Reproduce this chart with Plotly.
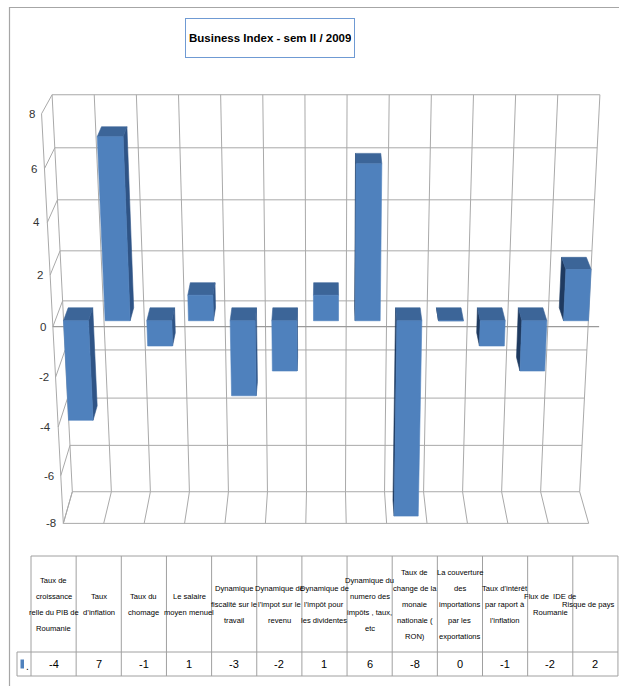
import numpy as np
import plotly.graph_objects as go

# ---- data -------------------------------------------------------------
categories = [
    ["Taux de", "croissance", "relle du PIB de", "Roumanie"],
    ["Taux", "d\u2019inflation"],
    ["Taux du", "chomage"],
    ["Le salaire", "moyen menuel"],
    ["Dynamique", "fiscalit\u00e9 sur le", "travail"],
    ["Dynamique de", "l\u2019impot sur le", "revenu"],
    ["Dynamique de", "l\u2019imp\u00f4t pour", "les dividentes"],
    ["Dynamique du", "numero des", "imp\u00f4ts , taux,", "etc"],
    ["Taux de", "change de la", "monaie", "nationale (", "RON)"],
    ["La couverture", "des", "importations", "par les", "exportations"],
    ["Taux d\u2019int\u00e9r\u00eat", "par raport \u00e0", "l\u2019inflation"],
    ["Flux de  IDE de", "Roumanie"],
    ["Risque de pays"],
]
values = [-4, 7, -1, 1, -3, -2, 1, 6, -8, 0, -1, -2, 2]
value_ticks = [8, 6, 4, 2, 0, -2, -4, -6, -8]
title_text = "Business Index - sem II / 2009"

# ---- page / styling ---------------------------------------------------
W, H = 619, 686
n = len(values)
Y_MIN, Y_MAX = min(value_ticks), max(value_ticks)

FONT = "Liberation Sans, Arial, sans-serif"
GRID = "#A9A9A9"
FRONT = "#4F81BD"
TOP = "#3C6598"
SIDE_R = "#2F5486"
SIDE_L = "#1F3A60"

# ---- perspective camera for the 3-D column view ------------------------
FOCAL = 1913.0
PITCH = np.radians(20.35)
VIEW_CX, VIEW_CY = 326.0, 310.0
SLOT_W = 22.03        # world width of one category slot
UNIT_H = 14.34        # world height of one value unit
EYE_H = 357.0         # eye height above the zero level
BACK_DIST = 976.8     # eye to back wall
FLOOR_DEPTH = 39.5    # front edge to back wall
BAR_Z = (0.225, 0.725)  # bar depth span, as fraction of floor depth
BAR_FILL = 0.6          # bar width, as fraction of a slot


def project(slot, val, depth):
    """slot: category coordinate 0..n, val: value, depth: 0 front .. 1 back"""
    slot = np.asarray(slot, float)
    val = np.asarray(val, float)
    depth = np.asarray(depth, float)
    dx = (slot - n / 2) * SLOT_W
    dy = val * UNIT_H - EYE_H
    dz = BACK_DIST - (1 - depth) * FLOOR_DEPTH
    s, c = np.sin(PITCH), np.cos(PITCH)
    yc = dy * c + dz * s
    zc = -dy * s + dz * c
    return VIEW_CX + FOCAL * dx / zc, VIEW_CY - FOCAL * yc / zc


def polyline(pairs):
    xs, ys = [], []
    for a, b in pairs:
        px, py = project(*zip(a, b))
        xs += list(px) + [None]
        ys += list(py) + [None]
    return xs, ys


def polygons(faces):
    xs, ys = [], []
    for corners in faces:
        px, py = project(*zip(*corners))
        xs += list(px) + [px[0], None]
        ys += list(py) + [py[0], None]
    return xs, ys


fig = go.Figure()

# walls and floor grid
grid = []
for t in value_ticks:
    grid.append(((0, t, 1), (n, t, 1)))        # back wall
    grid.append(((0, t, 0), (0, t, 1)))        # side wall
for k in range(n + 1):
    grid.append(((k, Y_MIN, 1), (k, Y_MAX, 1)))  # back wall
    grid.append(((k, Y_MIN, 0), (k, Y_MIN, 1)))  # floor
grid.append(((0, Y_MIN, 0), (0, Y_MAX, 0)))
grid.append(((0, Y_MIN, 0), (n, Y_MIN, 0)))
gx, gy = polyline(grid)
fig.add_trace(go.Scatter(x=gx, y=gy, mode="lines", line=dict(color=GRID, width=1),
                         hoverinfo="skip", showlegend=False))

# category axis at zero
ax, ay = polyline([((0, 0, 0), (n, 0, 0))])
fig.add_trace(go.Scatter(x=ax, y=ay, mode="lines", line=dict(color="#9A9A9A", width=1.3),
                         hoverinfo="skip", showlegend=False))

# columns
front, top, side_r, side_l = [], [], [], []
z0, z1 = BAR_Z
for i, v in enumerate(values):
    x0 = i + (1 - BAR_FILL) / 2
    x1 = i + (1 + BAR_FILL) / 2
    lo, hi = min(0, v), max(0, v)
    front.append([(x0, lo, z0), (x1, lo, z0), (x1, hi, z0), (x0, hi, z0)])
    top.append([(x0, hi, z0), (x1, hi, z0), (x1, hi, z1), (x0, hi, z1)])
    if x1 < n / 2:
        side_r.append([(x1, lo, z0), (x1, lo, z1), (x1, hi, z1), (x1, hi, z0)])
    elif x0 > n / 2:
        side_l.append([(x0, lo, z0), (x0, lo, z1), (x0, hi, z1), (x0, hi, z0)])

for faces, col in ((side_r, SIDE_R), (side_l, SIDE_L), (top, TOP), (front, FRONT)):
    fx, fy = polygons(faces)
    fig.add_trace(go.Scatter(x=fx, y=fy, mode="lines", fill="toself", fillcolor=col,
                             line=dict(color=col, width=0.6),
                             hoverinfo="skip", showlegend=False))

annotations = []
for t in value_ticks:
    px, py = project(0, t, 0)
    annotations.append(dict(x=float(px) - 5, y=float(py), xref="x", yref="y",
                            text=str(t), showarrow=False, xanchor="right", yanchor="middle",
                            font=dict(family=FONT, size=11.5, color="#333333")))

# ---- data table under the chart ----------------------------------------
TABLE_LEFT, KEY_W, COL_W = 17.0, 14.0, 45.15
HEAD_TOP, HEAD_BOT, ROW_BOT = 556.0, 652.0, 676.0
LINE_STEP = 16.0
col_x0 = TABLE_LEFT + KEY_W
col_right = col_x0 + n * COL_W

tl = [((col_x0, HEAD_TOP), (col_right, HEAD_TOP)),
      ((TABLE_LEFT, HEAD_BOT), (col_right, HEAD_BOT)),
      ((TABLE_LEFT, ROW_BOT), (col_right, ROW_BOT)),
      ((TABLE_LEFT, HEAD_BOT), (TABLE_LEFT, ROW_BOT))]
for k in range(n + 1):
    xk = col_x0 + k * COL_W
    tl.append(((xk, HEAD_TOP), (xk, ROW_BOT)))
tx, ty = [], []
for a, b in tl:
    tx += [a[0], b[0], None]
    ty += [a[1], b[1], None]
fig.add_trace(go.Scatter(x=tx, y=ty, mode="lines", line=dict(color="#A0A0A0", width=1),
                         hoverinfo="skip", showlegend=False))

head_mid = (HEAD_TOP + HEAD_BOT) / 2
row_mid = (HEAD_BOT + ROW_BOT) / 2
for i, lines in enumerate(categories):
    cx = col_x0 + (i + 0.5) * COL_W
    last = i == n - 1
    for j, line in enumerate(lines):
        yy = head_mid + (j - (len(lines) - 1) / 2) * LINE_STEP
        annotations.append(dict(x=col_right - 1 if last else cx, y=yy, xref="x", yref="y",
                                text=line, showarrow=False,
                                xanchor="right" if last else "center", yanchor="middle",
                                font=dict(family=FONT, size=7.6, color="#000000")))
    annotations.append(dict(x=cx, y=row_mid, xref="x", yref="y", text=str(values[i]),
                            showarrow=False, xanchor="center", yanchor="middle",
                            font=dict(family=FONT, size=11, color="#000000")))

# legend key in the table
annotations.append(dict(x=TABLE_LEFT + 10, y=row_mid + 2, xref="x", yref="y", text=".",
                        showarrow=False, xanchor="center", yanchor="middle",
                        font=dict(family=FONT, size=10, color="#000000")))

shapes = [
    dict(type="rect", xref="x", yref="y", x0=TABLE_LEFT + 3.5, x1=TABLE_LEFT + 7, y0=row_mid - 4.5,
         y1=row_mid + 4.5, fillcolor=FRONT, line=dict(width=0)),
    # chart frame
    dict(type="rect", xref="x", yref="y", x0=9.5, y0=7.5, x1=W + 20, y1=H + 20,
         line=dict(color="#A6A6A6", width=1.2), fillcolor="rgba(0,0,0,0)"),
]

# title box
annotations.append(dict(x=269.5, y=38, xref="x", yref="y", text="<b>%s</b>" % title_text,
                        showarrow=False, xanchor="center", yanchor="middle", height=32,
                        borderpad=3, bordercolor="#6F9AD3", borderwidth=1, bgcolor="white",
                        font=dict(family=FONT, size=11.5, color="#000000")))

fig.update_layout(
    width=W, height=H, autosize=False,
    margin=dict(l=0, r=0, t=0, b=0),
    paper_bgcolor="white", plot_bgcolor="white",
    xaxis=dict(range=[0, W], visible=False, fixedrange=True),
    yaxis=dict(range=[H, 0], visible=False, fixedrange=True),
    annotations=annotations, shapes=shapes, showlegend=False,
)

fig.write_html("out.html", config={"displayModeBar": False})
